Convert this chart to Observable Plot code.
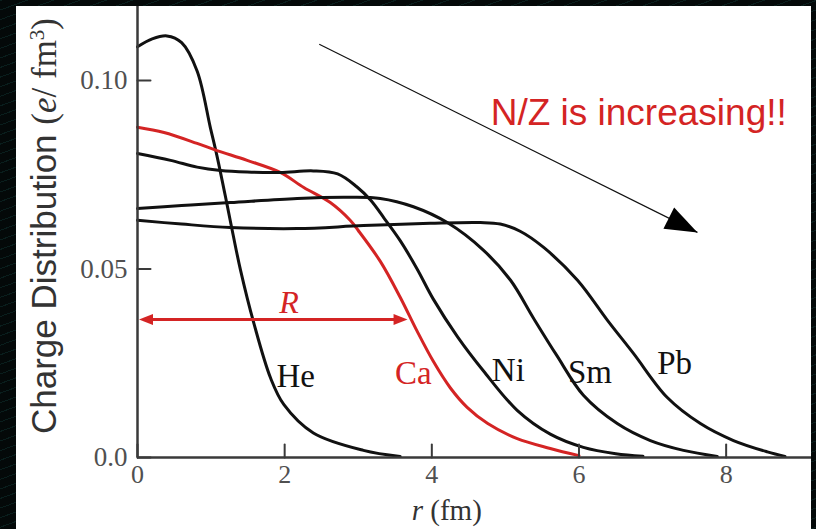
<!DOCTYPE html>
<html>
<head>
<meta charset="utf-8">
<script src="https://cdn.jsdelivr.net/npm/d3@7"></script>
<script src="https://cdn.jsdelivr.net/npm/@observablehq/plot@0.6"></script>
<style>
  html, body { margin: 0; padding: 0; width: 816px; height: 529px; overflow: hidden; background: #050b0b; }
  body {
    background:
      repeating-linear-gradient(160deg, rgba(20,70,66,0.35) 0 1px, transparent 1px 9px),
      #040909;
  }
  #panel { position: absolute; left: 16px; top: 6px; width: 795px; height: 523px; background: #fff; }
</style>
</head>
<body>
<div id="panel"></div>
<script>
// Nuclear charge density profiles ρ(r) for light to heavy nuclei.
const xTicks = [0, 2, 4, 6, 8];
const xTickLabels = ["0", "2", "4", "6", "8"];
const yTicks = [0, 0.05, 0.10];
const yTickLabels = ["0.0", "0.05", "0.10"];

const rHe   = [0, 0.2, 0.4, 0.6, 0.81, 0.99, 1.08, 1.22, 1.30, 1.40, 1.58, 1.81, 1.99, 2.39, 3.07, 3.57];
const rhoHe = [0.1089, 0.1110, 0.1118, 0.1100, 0.1025, 0.0875, 0.0800, 0.0668, 0.0590, 0.0497, 0.0357, 0.0210, 0.0140, 0.0065, 0.0019, 0.0003];

const rCa   = [0, 0.36, 0.81, 1.08, 1.49, 1.94, 2.26, 2.62, 2.89, 3.0, 3.3, 3.57, 3.8, 4.02, 4.25, 4.48, 4.76, 5.16, 5.61, 6.0];
const rhoCa = [0.0876, 0.0862, 0.0833, 0.0814, 0.0788, 0.0756, 0.0716, 0.0676, 0.0629, 0.0602, 0.0520, 0.0425, 0.0335, 0.0255, 0.0185, 0.0133, 0.0090, 0.0050, 0.0024, 0.0005];

const rNi   = [0, 0.45, 0.81, 1.13, 1.49, 1.94, 2.39, 2.72, 2.98, 3.17, 3.35, 3.57, 3.80, 4.02, 4.35, 4.70, 5.16, 5.61, 6.06, 6.5, 6.87];
const rhoNi = [0.0806, 0.0788, 0.0770, 0.0761, 0.0757, 0.0756, 0.0760, 0.0752, 0.0718, 0.0682, 0.0635, 0.0575, 0.0500, 0.0420, 0.0320, 0.0230, 0.0125, 0.0062, 0.0027, 0.0010, 0.0003];

const rSm   = [0, 0.6, 1.26, 2.17, 2.85, 3.30, 3.75, 4.21, 4.70, 5.07, 5.38, 5.70, 6.06, 6.52, 6.97, 7.42, 7.88];
const rhoSm = [0.0660, 0.0668, 0.0676, 0.0687, 0.0690, 0.0687, 0.0665, 0.0623, 0.0550, 0.0470, 0.0370, 0.0270, 0.0165, 0.0090, 0.0045, 0.0019, 0.0003];

const rPb   = [0, 0.6, 1.26, 2.17, 3.07, 3.98, 4.66, 4.93, 5.20, 5.52, 5.98, 6.39, 6.74, 7.2, 7.65, 8.1, 8.56, 8.8];
const rhoPb = [0.0629, 0.0619, 0.0610, 0.0607, 0.0615, 0.0621, 0.0623, 0.0619, 0.0600, 0.0557, 0.0470, 0.0363, 0.0276, 0.0159, 0.0090, 0.0045, 0.0015, 0.0003];

// curve labels
const labelNames = ["He", "Ca", "Ni", "Sm", "Pb"];
const labelR     = [2.15, 3.75, 5.04, 6.15, 7.30];
const labelRho   = [0.0215, 0.0223, 0.0231, 0.0225, 0.0249];

// radius arrow for Ca
const radiusFrom = 0.02, radiusTo = 3.67, radiusRho = 0.0366;
const radiusLabelR = 2.06, radiusLabelRho = 0.0410;

// trend arrow and note
const trendFrom = [2.47, 0.1096];
const trendTo   = [7.61, 0.0597];
const noteText = "N/Z is increasing!!";
const noteAt   = [4.80, 0.0912];

const RED = "#d42424";
const INK = "#111";
const AXIS = "#3a3a3a";
const SERIF = "'Liberation Serif', 'DejaVu Serif', serif";
const SANS = "'Liberation Sans', Arial, sans-serif";

const W = 795, H = 523, mL = 121, mR = 0, mT = 0, mB = 72;
const xDomain = [0, 9.16], yDomain = [0, 0.1196];

const series = [
  {name: "He", r: rHe, rho: rhoHe},
  {name: "Ca", r: rCa, rho: rhoCa},
  {name: "Ni", r: rNi, rho: rhoNi},
  {name: "Sm", r: rSm, rho: rhoSm},
  {name: "Pb", r: rPb, rho: rhoPb}
];
const colorOf = (name) => name === "Ca" ? RED : INK;
const rows = series.flatMap(s => s.r.map((r, i) => ({name: s.name, r, rho: s.rho[i], color: colorOf(s.name)})));
const labels = labelNames.map((name, i) => ({name, r: labelR[i], rho: labelRho[i], color: colorOf(name)}));

// shapes for the vector marks: inward ticks and filled arrowheads
const tickShape = {draw(ctx, l) { ctx.moveTo(0, 0); ctx.lineTo(0, -l); }};
const headShape = (w) => ({draw(ctx, l) { ctx.moveTo(0, -l); ctx.lineTo(-w, 0); ctx.lineTo(w, 0); ctx.closePath(); }});

// screen direction of the trend arrow, from the same scale configuration
const sx = Plot.scale({x: {domain: xDomain, range: [mL, W - mR]}});
const sy = Plot.scale({y: {domain: yDomain, range: [H - mB, mT]}});
const ddx = sx.apply(trendTo[0]) - sx.apply(trendFrom[0]);
const ddy = sy.apply(trendTo[1]) - sy.apply(trendFrom[1]);
const trendAngle = Math.atan2(ddx, -ddy) * 180 / Math.PI;

const svg = Plot.plot({
  width: W, height: H,
  marginLeft: mL, marginRight: mR, marginTop: mT, marginBottom: mB,
  x: {domain: xDomain, axis: null},
  y: {domain: yDomain, axis: null},
  style: {background: "white", overflow: "visible"},
  marks: [
    // curves
    Plot.line(rows, {x: "r", y: "rho", z: "name", stroke: "color", strokeWidth: 3, curve: "catmull-rom"}),
    // axes
    Plot.ruleX([0], {stroke: AXIS, strokeWidth: 2.5}),
    Plot.ruleY([0], {stroke: AXIS, strokeWidth: 2.5}),
    Plot.vector(xTicks, {x: d => d, y: 0, length: 13, rotate: 0, anchor: "start", shape: tickShape, stroke: AXIS, strokeWidth: 2}),
    Plot.vector(yTicks, {x: 0, y: d => d, length: 13, rotate: 90, anchor: "start", shape: tickShape, stroke: AXIS, strokeWidth: 2}),
    Plot.text(xTicks, {x: d => d, y: 0, text: (d, i) => xTickLabels[i], dy: 17, lineAnchor: "middle", textAnchor: "middle", fontFamily: SERIF, fontSize: 26, fill: "#505050"}),
    Plot.text(yTicks, {x: 0, y: d => d, text: (d, i) => yTickLabels[i], dx: -10, lineAnchor: "middle", textAnchor: "end", fontFamily: SERIF, fontSize: 27, fill: "#505050"}),
    // curve labels
    Plot.text(labels, {x: "r", y: "rho", text: "name", fill: "color", fontFamily: SERIF, fontSize: 33, lineAnchor: "middle", textAnchor: "middle"}),
    // radius arrow
    Plot.ruleY([radiusRho], {x1: radiusFrom, x2: radiusTo, stroke: RED, strokeWidth: 3, insetLeft: 10, insetRight: 10}),
    Plot.vector([radiusTo], {x: d => d, y: radiusRho, length: 14, rotate: 90, anchor: "end", shape: headShape(5.5), fill: RED, stroke: "none"}),
    Plot.vector([radiusFrom], {x: d => d, y: radiusRho, length: 14, rotate: -90, anchor: "end", shape: headShape(5.5), fill: RED, stroke: "none"}),
    Plot.text(["R"], {x: radiusLabelR, y: radiusLabelRho, text: d => d, fill: RED, fontFamily: SERIF, fontStyle: "italic", fontSize: 32, lineAnchor: "middle"}),
    // trend arrow and note
    Plot.link([0], {x1: trendFrom[0], y1: trendFrom[1], x2: trendTo[0], y2: trendTo[1], stroke: INK, strokeWidth: 1.2}),
    Plot.vector([0], {x: trendTo[0], y: trendTo[1], length: 32, rotate: trendAngle, anchor: "end", shape: headShape(12), fill: "#000", stroke: "none"}),
    Plot.text([noteText], {x: noteAt[0], y: noteAt[1], text: d => d, fill: RED, fontFamily: SANS, fontSize: 37, textAnchor: "start", lineAnchor: "middle"})
  ]
});

// axis titles with mixed type faces
const root = d3.select(svg);
const xTitle = root.append("text")
  .attr("x", sx.apply(4.21)).attr("y", 514)
  .attr("text-anchor", "middle")
  .attr("font-family", SERIF).attr("font-size", 29).attr("fill", "#333");
xTitle.append("tspan").attr("font-style", "italic").text("r");
xTitle.append("tspan").text(" (fm)");

const yTitle = root.append("text")
  .attr("transform", "translate(40,220) rotate(-90)")
  .attr("text-anchor", "middle")
  .attr("font-size", 35).attr("fill", "#333");
yTitle.append("tspan").attr("font-family", SANS).text("Charge Distribution ");
yTitle.append("tspan").attr("font-family", SERIF).text("(");
yTitle.append("tspan").attr("font-family", SERIF).attr("font-style", "italic").text("e");
yTitle.append("tspan").attr("font-family", SERIF).text("/ fm");
yTitle.append("tspan").attr("font-family", SERIF).attr("font-size", 21).attr("dy", -12).text("3");
yTitle.append("tspan").attr("font-family", SERIF).attr("dy", 12).text(")");

document.getElementById("panel").appendChild(svg);
</script>
</body>
</html>
